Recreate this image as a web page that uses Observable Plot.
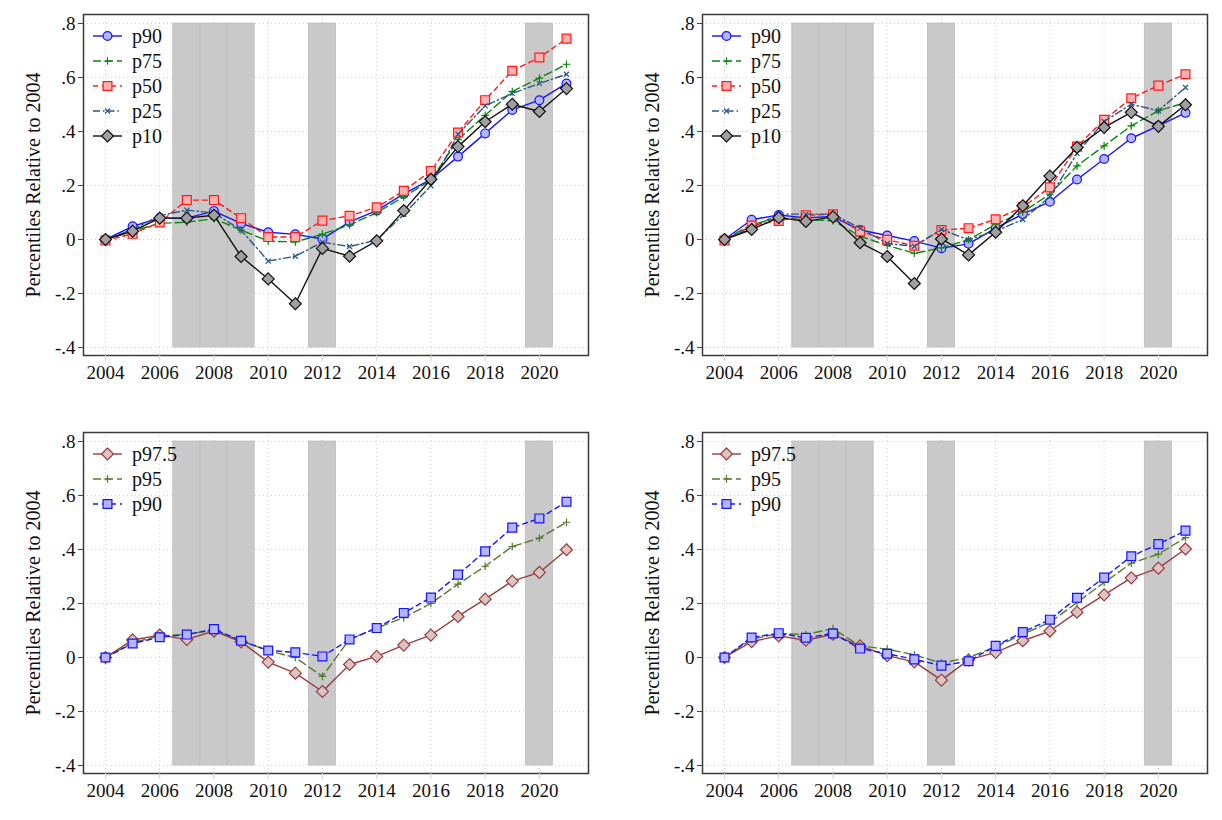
<!DOCTYPE html>
<html>
<head>
<meta charset="utf-8">
<script src="https://cdn.jsdelivr.net/npm/d3@7"></script>
<script src="https://cdn.jsdelivr.net/npm/@observablehq/plot@0.6"></script>
<style>
  html, body { margin: 0; padding: 0; background: #fff; }
  body { width: 1222px; height: 820px; overflow: hidden; position: relative; font-family: "Liberation Serif", serif; }
  .panel { position: absolute; width: 611px; height: 400px; }
  .panel svg { max-width: none !important; display: block; }
</style>
</head>
<body>
<div id="topLeft" class="panel" style="left:0px;top:0px"></div>
<div id="topRight" class="panel" style="left:619px;top:0px"></div>
<div id="bottomLeft" class="panel" style="left:0px;top:418px"></div>
<div id="bottomRight" class="panel" style="left:619px;top:418px"></div>
<script>
// Years on the horizontal axis
const years = [2004, 2005, 2006, 2007, 2008, 2009, 2010, 2011, 2012, 2013,
               2014, 2015, 2016, 2017, 2018, 2019, 2020, 2021];
const xTicks = [2004, 2006, 2008, 2010, 2012, 2014, 2016, 2018, 2020];
const xTickLabels = ["2004", "2006", "2008", "2010", "2012", "2014", "2016", "2018", "2020"];
const yTicks = [-0.4, -0.2, 0, 0.2, 0.4, 0.6, 0.8];
const yTickLabels = ["-.4", "-.2", "0", ".2", ".4", ".6", ".8"];
const yTitle = "Percentiles Relative to 2004";

// Recession periods (shaded bands)
const recessionStart = [2006.5, 2007.5, 2008.5, 2011.5, 2019.5];
const recessionEnd   = [2007.5, 2008.5, 2009.5, 2012.5, 2020.5];

// Top-left panel
const tlP90 = [0, 0.049, 0.079, 0.079, 0.105, 0.060, 0.027, 0.019, 0.002, 0.065, 0.107, 0.169, 0.223, 0.307, 0.393, 0.480, 0.516, 0.578];
const tlP75 = [0, 0.031, 0.060, 0.064, 0.077, 0.035, -0.006, -0.009, 0.020, 0.054, 0.099, 0.158, 0.220, 0.370, 0.460, 0.548, 0.598, 0.649];
const tlP50 = [-0.004, 0.021, 0.063, 0.146, 0.146, 0.079, 0.009, 0.009, 0.070, 0.088, 0.119, 0.180, 0.254, 0.396, 0.516, 0.625, 0.674, 0.744];
const tlP25 = [0, 0.037, 0.088, 0.109, 0.098, 0.035, -0.080, -0.062, -0.010, -0.026, -0.002, 0.093, 0.199, 0.390, 0.495, 0.541, 0.578, 0.612];
const tlP10 = [0, 0.031, 0.079, 0.079, 0.090, -0.063, -0.146, -0.238, -0.033, -0.062, -0.005, 0.107, 0.223, 0.344, 0.436, 0.501, 0.474, 0.559];

// Top-right panel
const trP90 = [0, 0.073, 0.091, 0.080, 0.085, 0.035, 0.015, -0.006, -0.032, -0.016, 0.042, 0.094, 0.140, 0.222, 0.298, 0.375, 0.421, 0.469];
const trP75 = [0, 0.055, 0.080, 0.073, 0.070, 0.012, -0.022, -0.051, -0.031, -0.001, 0.056, 0.102, 0.168, 0.273, 0.347, 0.421, 0.477, 0.507];
const trP50 = [-0.004, 0.052, 0.069, 0.090, 0.093, 0.030, -0.001, -0.023, 0.035, 0.042, 0.075, 0.120, 0.193, 0.344, 0.443, 0.523, 0.570, 0.612];
const trP25 = [0, 0.043, 0.094, 0.094, 0.094, 0.042, -0.015, -0.025, 0.037, -0.001, 0.031, 0.074, 0.158, 0.319, 0.437, 0.501, 0.477, 0.563];
const trP10 = [0, 0.037, 0.081, 0.067, 0.084, -0.012, -0.063, -0.163, 0.002, -0.057, 0.027, 0.125, 0.235, 0.341, 0.415, 0.471, 0.419, 0.499];

// Bottom-left panel
const blP975 = [0, 0.065, 0.083, 0.067, 0.098, 0.058, -0.017, -0.058, -0.126, -0.026, 0.004, 0.046, 0.083, 0.152, 0.216, 0.283, 0.315, 0.399];
const blP95  = [0, 0.055, 0.080, 0.086, 0.101, 0.062, 0.025, 0.000, -0.070, 0.068, 0.109, 0.148, 0.200, 0.272, 0.338, 0.411, 0.442, 0.501];
const blP90  = [0, 0.052, 0.075, 0.085, 0.105, 0.062, 0.026, 0.019, 0.004, 0.067, 0.109, 0.165, 0.222, 0.307, 0.393, 0.481, 0.515, 0.577];

// Bottom-right panel
const brP975 = [0, 0.059, 0.080, 0.064, 0.086, 0.043, 0.007, -0.016, -0.084, -0.009, 0.019, 0.062, 0.098, 0.168, 0.232, 0.295, 0.331, 0.402];
const brP95  = [0, 0.068, 0.089, 0.085, 0.107, 0.043, 0.031, 0.010, -0.021, 0.000, 0.040, 0.086, 0.130, 0.204, 0.278, 0.349, 0.383, 0.444];
const brP90  = [0, 0.074, 0.090, 0.073, 0.089, 0.033, 0.014, -0.007, -0.030, -0.014, 0.043, 0.094, 0.140, 0.221, 0.296, 0.375, 0.420, 0.470];

// Series appearance
const styles = {
  p90:   {color: "#1414ff", fill: "#b4b4ff", dash: null,        symbol: "circle",   r: 4.4},
  p75:   {color: "#0a870a", fill: "none",    dash: "8,4",       symbol: "plus",     r: 2.6},
  p50:   {color: "#ff1a1a", fill: "#ffb0b0", dash: "5,4",       symbol: "square",   r: 5.0},
  p25:   {color: "#2c5684", fill: "none",    dash: "7,3,1.5,3", symbol: "times",    r: 2.4},
  p10:   {color: "#111111", fill: "#a0a0a0", dash: null,        symbol: "diamond2", r: 5.4},
  p975:  {color: "#9a3c3c", fill: "#dcc4c4", dash: null,        symbol: "diamond2", r: 5.4},
  p95:   {color: "#557a30", fill: "none",    dash: "8,4",       symbol: "plus",     r: 2.6},
  p90sq: {color: "#1414ff", fill: "#b4b4ff", dash: "5,4",       symbol: "square",   r: 5.0}
};

const symbolTypes = {
  circle: d3.symbolCircle, plus: d3.symbolPlus, square: d3.symbolSquare,
  times: d3.symbolTimes, diamond2: d3.symbolDiamond2
};

function drawPanel(targetId, series) {
  const marks = [
    Plot.gridY(yTicks, {stroke: "#cfcfcf", strokeOpacity: 1, strokeDasharray: "1,3"}),
    Plot.gridX(xTicks, {stroke: "#cfcfcf", strokeOpacity: 1, strokeDasharray: "1,3"}),
    Plot.rect(recessionStart, {
      x1: d => d,
      x2: (d, i) => recessionEnd[i],
      y1: () => yTicks[0],
      y2: () => yTicks[yTicks.length - 1],
      fill: "#c9c9c9",
      stroke: "#bdbdbd",
      strokeWidth: 0.8
    })
  ];
  for (const s of series) {
    const st = styles[s.style];
    marks.push(Plot.line(s.values, {
      x: (d, i) => years[i], y: d => d,
      stroke: st.color, strokeWidth: 1.4,
      strokeDasharray: st.dash ?? undefined
    }));
    marks.push(Plot.dot(s.values, {
      x: (d, i) => years[i], y: d => d,
      symbol: st.symbol, r: st.r,
      stroke: st.color, fill: st.fill, strokeWidth: 1.2
    }));
  }
  marks.push(
    Plot.frame({stroke: "#3a3a3a", strokeWidth: 1.5}),
    Plot.axisY(yTicks, {
      anchor: "left", tickSize: 5, tickPadding: 3,
      stroke: "#444", fill: "#111", fontSize: 19,
      tickFormat: d => yTickLabels[yTicks.indexOf(d)],
      label: null
    }),
    Plot.axisX(xTicks, {
      anchor: "bottom", tickSize: 6, tickPadding: 4,
      stroke: "#d2d2d2", fill: "#111", fontSize: 19,
      tickFormat: d => xTickLabels[xTicks.indexOf(d)],
      label: null
    }),
    Plot.text([yTitle], {
      frameAnchor: "left", textAnchor: "middle", rotate: -90, dx: -50,
      fill: "#111", fontSize: 20
    })
  );

  const svg = Plot.plot({
    width: 611,
    height: 400,
    marginLeft: 83,
    marginRight: 23,
    marginTop: 14,
    marginBottom: 45,
    x: {domain: [2004, 2021], range: [105, 566]},
    y: {domain: [-0.4, 0.8], range: [347, 23]},
    style: {fontFamily: "Liberation Serif, serif", fontSize: "19px", background: "#fff", overflow: "visible", maxWidth: "none"},
    marks
  });

  // Legend in the upper-left corner of the plot region
  const g = d3.select(svg).append("g").attr("class", "legend");
  series.forEach((s, i) => {
    const st = styles[s.style];
    const cy = 36 + i * 25;
    g.append("line")
      .attr("x1", 93).attr("x2", 122).attr("y1", cy).attr("y2", cy)
      .attr("stroke", st.color).attr("stroke-width", 1.4)
      .attr("stroke-dasharray", st.dash);
    g.append("path")
      .attr("transform", `translate(107.5,${cy})`)
      .attr("d", d3.symbol(symbolTypes[st.symbol], st.r * st.r * Math.PI)())
      .attr("stroke", st.color).attr("stroke-width", 1.2)
      .attr("fill", st.fill);
    g.append("text")
      .attr("x", 132).attr("y", cy).attr("dy", "0.35em")
      .attr("text-anchor", "start")
      .attr("fill", "#111").style("font-size", "20px")
      .text(s.name);
  });

  document.getElementById(targetId).append(svg);
}

drawPanel("topLeft", [
  {name: "p90", values: tlP90, style: "p90"},
  {name: "p75", values: tlP75, style: "p75"},
  {name: "p50", values: tlP50, style: "p50"},
  {name: "p25", values: tlP25, style: "p25"},
  {name: "p10", values: tlP10, style: "p10"}
]);
drawPanel("topRight", [
  {name: "p90", values: trP90, style: "p90"},
  {name: "p75", values: trP75, style: "p75"},
  {name: "p50", values: trP50, style: "p50"},
  {name: "p25", values: trP25, style: "p25"},
  {name: "p10", values: trP10, style: "p10"}
]);
drawPanel("bottomLeft", [
  {name: "p97.5", values: blP975, style: "p975"},
  {name: "p95",   values: blP95,  style: "p95"},
  {name: "p90",   values: blP90,  style: "p90sq"}
]);
drawPanel("bottomRight", [
  {name: "p97.5", values: brP975, style: "p975"},
  {name: "p95",   values: brP95,  style: "p95"},
  {name: "p90",   values: brP90,  style: "p90sq"}
]);
</script>
</body>
</html>
